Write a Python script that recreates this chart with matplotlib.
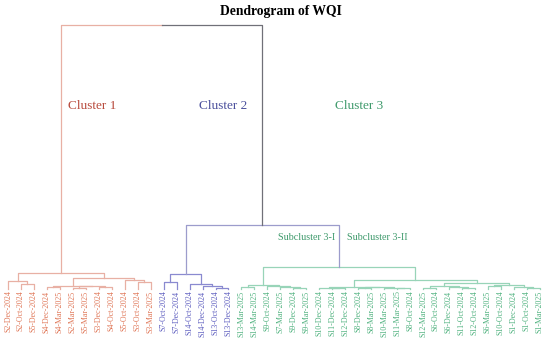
import matplotlib.pyplot as plt

plt.rcParams['font.family'] = ['Liberation Serif', 'DejaVu Serif']

# leaves in display order (left to right)
leaves = [
    'S2-Dec-2024', 'S2-Oct-2024', 'S5-Dec-2024', 'S4-Dec-2024', 'S4-Mar-2025',
    'S2-Mar-2025', 'S5-Mar-2025', 'S3-Dec-2024', 'S4-Oct-2024', 'S5-Oct-2024',
    'S3-Oct-2024', 'S3-Mar-2025',
    'S7-Oct-2024', 'S7-Dec-2024', 'S14-Oct-2024', 'S14-Dec-2024', 'S13-Oct-2024',
    'S13-Dec-2024',
    'S13-Mar-2025', 'S14-Mar-2025', 'S9-Oct-2024', 'S7-Mar-2025', 'S9-Dec-2024',
    'S9-Mar-2025', 'S10-Dec-2024', 'S11-Dec-2024', 'S12-Dec-2024', 'S8-Dec-2024',
    'S8-Mar-2025', 'S10-Mar-2025', 'S11-Mar-2025', 'S8-Oct-2024', 'S12-Mar-2025',
    'S6-Oct-2024', 'S6-Dec-2024', 'S11-Oct-2024', 'S12-Oct-2024', 'S6-Mar-2025',
    'S10-Oct-2024', 'S1-Dec-2024', 'S1-Oct-2024', 'S1-Mar-2025',
]
leaf_cluster = [1] * 12 + [2] * 6 + [3] * 24

# merges: (left id, right id, height, group); ids < 42 are leaves, 42+k is merge k
merges = [
    (1, 2, 0.19, 1),      # 42
    (0, 42, 0.30, 1),     # 43
    (3, 4, 0.08, 1),      # 44
    (5, 6, 0.04, 1),      # 45
    (7, 8, 0.06, 1),      # 46
    (45, 46, 0.11, 1),    # 47
    (44, 47, 0.13, 1),    # 48
    (10, 11, 0.27, 1),    # 49
    (9, 49, 0.36, 1),     # 50
    (48, 50, 0.42, 1),    # 51
    (43, 51, 0.62, 1),    # 52 cluster 1
    (12, 13, 0.27, 2),    # 53
    (16, 17, 0.04, 2),    # 54
    (15, 54, 0.11, 2),    # 55
    (14, 55, 0.19, 2),    # 56
    (53, 56, 0.57, 2),    # 57 cluster 2
    (18, 19, 0.08, 3),    # 58
    (22, 23, 0.04, 3),    # 59
    (21, 59, 0.06, 3),    # 60
    (20, 60, 0.10, 3),    # 61
    (58, 61, 0.15, 3),    # 62 subcluster 3-I
    (25, 26, 0.03, 3),    # 63
    (24, 63, 0.05, 3),    # 64
    (27, 28, 0.03, 3),    # 65
    (30, 31, 0.02, 3),    # 66
    (29, 66, 0.04, 3),    # 67
    (65, 67, 0.06, 3),    # 68
    (64, 68, 0.08, 3),    # 69
    (32, 33, 0.05, 3),    # 70
    (35, 36, 0.04, 3),    # 71
    (34, 71, 0.07, 3),    # 72
    (70, 72, 0.11, 3),    # 73
    (37, 38, 0.10, 3),    # 74
    (40, 41, 0.05, 3),    # 75
    (39, 75, 0.08, 3),    # 76
    (74, 76, 0.15, 3),    # 77
    (73, 77, 0.23, 3),    # 78
    (69, 78, 0.34, 3),    # 79 subcluster 3-II
    (62, 79, 0.83, 3),    # 80 cluster 3
    (57, 80, 2.42, 4),    # 81 clusters 2+3
    (52, 81, 10.0, 0),    # 82 root
]

line_colors = {1: '#e8b0a4', 2: '#8a8ad0', 3: '#98d4b8', 4: '#9c9ccc', 0: '#707078'}
text_colors = {1: '#df7454', 2: '#5a5abe', 3: '#4cb07c'}

cluster_names = ['Cluster 1', 'Cluster 2', 'Cluster 3']
cluster_label_x = [6.5, 16.6, 27.1]
cluster_label_colors = ['#b84a3c', '#4a4f9c', '#3f9a6c']
sub_names = ['Subcluster 3-I', 'Subcluster 3-II']
sub_label_x = [23.0, 28.5]

fig = plt.figure(figsize=(5.5, 3.43), dpi=100)
ax = fig.add_axes([0, 0, 1, 1])

n = len(leaves)
xpos = [float(i) for i in range(n)]
ypos = [0.0] * n
for a, b, h, g in merges:
    xpos.append((xpos[a] + xpos[b]) / 2)
    ypos.append(h)

for a, b, h, g in merges:
    xa, xb, ya, yb = xpos[a], xpos[b], ypos[a], ypos[b]
    if g == 0:
        # root link: left half keeps the cluster 1 colour
        mid = (xa + xb) / 2
        ax.plot([xa, xa, mid], [ya, h, h], color=line_colors[1], lw=0.9)
        ax.plot([mid, xb, xb], [h, h, yb], color=line_colors[0], lw=0.9)
    else:
        ax.plot([xa, xa, xb, xb], [ya, h, h, yb], color=line_colors[g], lw=0.9)

for i, lab in enumerate(leaves):
    ax.text(i, -0.06, lab, rotation=90, ha='center', va='top', fontsize=5.7,
            color=text_colors[leaf_cluster[i]])

for name, x, c in zip(cluster_names, cluster_label_x, cluster_label_colors):
    ax.text(x, 6.93, name, ha='center', va='center', fontsize=9.5, color=c)

for name, x in zip(sub_names, sub_label_x):
    ax.text(x, 1.97, name, ha='center', va='center', fontsize=7.3, color='#3f9a6c')

fig.text(0.511, 1 - 12 / 343, 'Dendrogram of WQI', ha='center', va='center',
         fontsize=9.8, fontweight='bold')

ax.set_xlim(-0.617, 41.79)
ax.set_ylim(-2.045, 10.947)
ax.axis('off')

fig.savefig('out.png', dpi=100)
